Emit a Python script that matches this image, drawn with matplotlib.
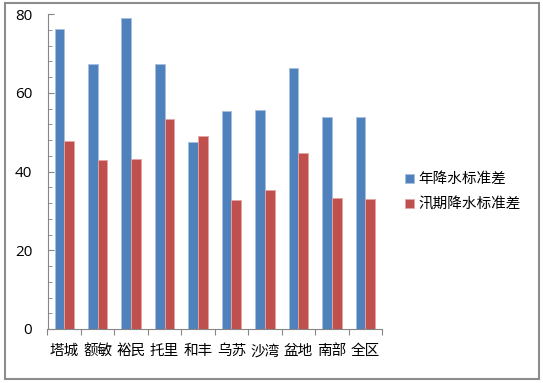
import matplotlib.pyplot as plt
import numpy as np
from matplotlib.patches import Rectangle
from matplotlib.ticker import MultipleLocator

plt.rcParams['font.family'] = ['Noto Sans CJK SC', 'DejaVu Sans']

regions = ['塔城', '额敏', '裕民', '托里', '和丰', '乌苏', '沙湾', '盆地', '南部', '全区']
annual_sd = [76.2, 67.2, 79.1, 67.3, 47.6, 55.4, 55.5, 66.2, 53.9, 53.8]
flood_sd = [47.7, 43.0, 43.3, 53.3, 48.9, 32.8, 35.2, 44.7, 33.2, 32.9]
series_names = ['年降水标准差', '汛期降水标准差']

W, H = 543, 383
fig = plt.figure(figsize=(W / 100, H / 100), dpi=100)
fig.patches.append(Rectangle((5 / W, 4 / H), 534 / W, 376 / H, transform=fig.transFigure,
                             fill=False, edgecolor='#8c8c8c', linewidth=1.5))

ax = fig.add_axes([47.5 / W, 54 / H, 334.5 / W, 315 / H])
x = np.arange(len(regions))
bw = 0.29
ax.bar(x - bw / 2, annual_sd, bw, color='#4f81bd', edgecolor='#a7c0de', linewidth=0.6,
       label=series_names[0])
ax.bar(x + bw / 2, flood_sd, bw, color='#c0504d', edgecolor='#e3a5a3', linewidth=0.6,
       label=series_names[1])

ax.set_xlim(-0.5, len(regions) - 0.5)
ax.set_ylim(0, 80)
ax.yaxis.set_major_locator(MultipleLocator(20))
ax.yaxis.set_minor_locator(MultipleLocator(4))
ax.set_xticks(np.arange(len(regions) + 1) - 0.5, minor=False)
ax.set_xticklabels([])
ax.set_xticks(x, minor=True)
ax.set_xticklabels(regions, minor=True, fontsize=10.5)
ax.tick_params(axis='x', which='minor', length=0, pad=11)
ax.tick_params(axis='x', which='major', length=4, color='#868686')
ax.tick_params(axis='y', which='both', direction='in', color='#868686', pad=11)
ax.tick_params(axis='y', which='major', length=4)
ax.tick_params(axis='y', which='minor', length=3)
for lab in ax.get_yticklabels():
    lab.set_family('Open Sans')
    lab.set_fontsize(11)

for s in ['top', 'right']:
    ax.spines[s].set_visible(False)
for s in ['left', 'bottom']:
    ax.spines[s].set_color('#868686')

fig.legend(loc='center left', bbox_to_anchor=(405 / W, 1 - 192 / H), frameon=False,
           fontsize=10.5, handlelength=0.6, handleheight=0.6, handletextpad=0.3,
           labelspacing=0.75, borderpad=0, borderaxespad=0)

fig.savefig('out.png', dpi=100)
